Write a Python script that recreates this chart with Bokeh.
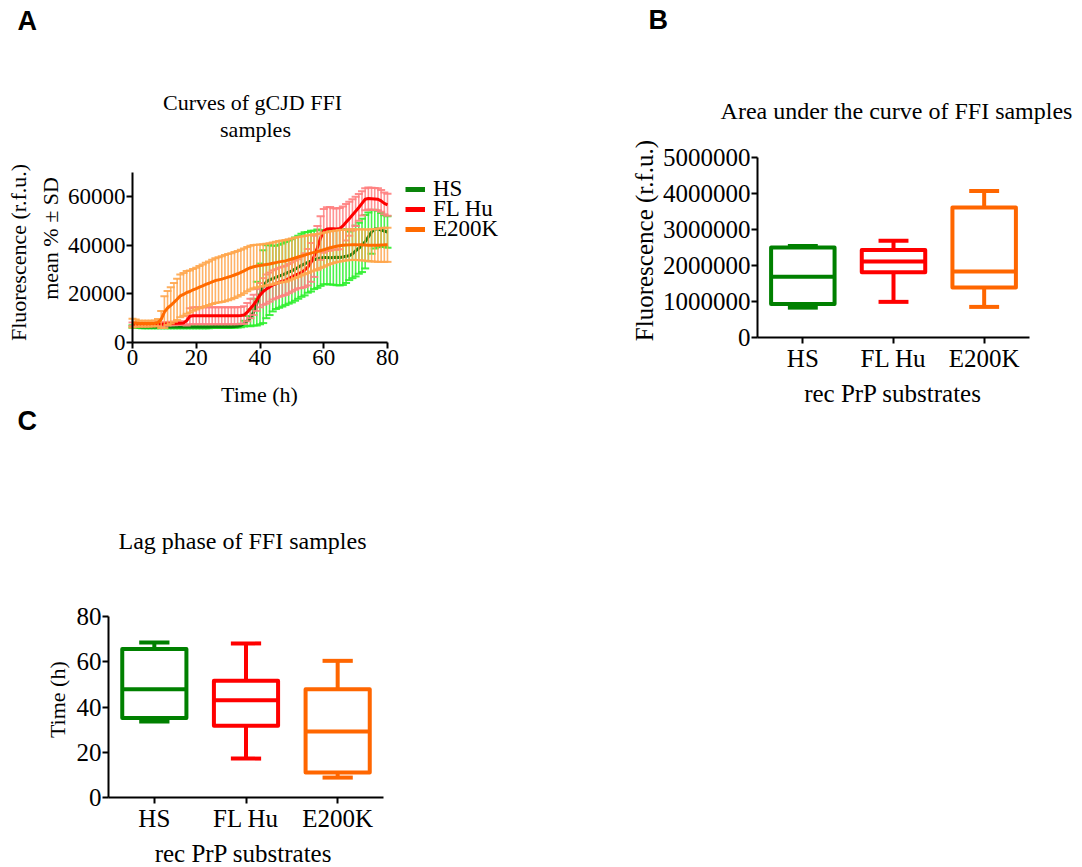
import math
import numpy as np
from bokeh.plotting import figure
from bokeh.layouts import column, row
from bokeh.models import (ColumnDataSource, Range1d, FixedTicker,
                          BasicTickFormatter, Label, Legend, LegendItem)
from bokeh.embed import file_html
from bokeh.resources import INLINE

# ---------------------------------------------------------------- data
# Panel A: RT-QuIC curves, mean and SD per hour (r.f.u.)
hours = list(range(81))

hs_mean = [6600, 6500, 6500, 6400, 6400, 6400, 6400, 6400, 6400, 6400,
           6400, 6400, 6400, 6400, 6400, 6400, 6400, 6400, 6400, 6400,
           6400, 6400, 6400, 6400, 6400, 6500, 6500, 6500, 6500, 6500,
           6500, 6500, 6600, 6700, 7000, 7800, 8900, 10200, 12500, 16000,
           20000, 23000, 25000, 25800, 26300, 26800, 27300, 27800, 28400, 29000,
           29500, 30200, 31000, 31800, 32400, 33000, 33500, 34000, 34500, 34800,
           35000, 35000, 34900, 35000, 35100, 35000, 35200, 35500, 35700, 36500,
           37700, 38800, 40000, 41500, 43500, 45500, 46700, 46700, 46300, 45900,
           45500]
hs_sd = [500, 500, 500, 500, 500, 500, 500, 500, 500, 500,
         500, 500, 500, 500, 500, 500, 500, 500, 500, 500,
         500, 500, 500, 500, 500, 500, 500, 500, 500, 500,
         500, 500, 500, 500, 700, 1200, 2000, 3500, 5500, 9000,
         12500, 15000, 15000, 14500, 13500, 13000, 13000, 13000, 13000, 13000,
         13000, 13000, 13000, 13000, 13000, 12500, 12500, 12000, 12000, 11500,
         11000, 11000, 11000, 11200, 11500, 11500, 11500, 11000, 10000, 10000,
         10500, 10500, 11000, 11000, 10000, 9000, 8000, 7500, 7000, 6500,
         6500]

fl_mean = [7500, 7500, 7400, 7400, 7400, 7400, 7500, 7500, 7500, 7500,
           7600, 7700, 7800, 7800, 7900, 7900, 8000, 9000, 10800, 11000,
           11000, 11000, 11000, 11000, 11000, 11000, 11000, 11000, 11000, 11000,
           11000, 11000, 11000, 11000, 11100, 11300, 12500, 14000, 15500, 17500,
           19500, 21000, 22000, 22800, 23700, 24200, 24800, 25200, 25600, 26300,
           27000, 27700, 28300, 28900, 29800, 31000, 33000, 35500, 39000, 43000,
           46000, 46700, 46800, 46800, 46700, 46900, 48000, 49500, 51000, 52500,
           54000, 55600, 57300, 59000, 59300, 59200, 59100, 59000, 58300, 57300,
           56700]
fl_sd = [700, 700, 700, 700, 700, 700, 700, 700, 700, 700,
         700, 700, 700, 700, 700, 700, 700, 2000, 3300, 3500,
         3500, 3500, 3500, 3500, 3500, 3500, 3500, 3500, 3500, 3500,
         3500, 3500, 3500, 3500, 3500, 3600, 3800, 4000, 4200, 4500,
         5000, 5500, 6000, 6000, 6000, 6000, 6000, 6000, 6000, 6000,
         6000, 6000, 6000, 6500, 7000, 7500, 8000, 8500, 9000, 9000,
         9000, 9000, 9000, 8500, 8500, 8500, 8000, 7500, 7000, 6500,
         6000, 5500, 5000, 4500, 4500, 4500, 4500, 4500, 4500, 4500,
         4500]

e2_mean = [8000, 8000, 7800, 7800, 7800, 7800, 7800, 7900, 8200, 9500,
           12500, 14200, 15300, 16500, 17800, 19200, 19800, 20600, 21000, 21700,
           22200, 22800, 23300, 23900, 24400, 25000, 25500, 25800, 26100, 26500,
           26900, 27300, 27800, 28300, 28900, 29500, 30200, 30800, 31200, 31500,
           31700, 31900, 32100, 32300, 32600, 32900, 33200, 33400, 33600, 34000,
           34400, 34800, 35200, 35600, 36000, 36400, 36800, 37100, 37400, 37800,
           38200, 38600, 39000, 39300, 39600, 39800, 40000, 40100, 40200, 40300,
           40300, 40200, 40200, 40100, 40000, 40000, 40000, 40000, 40100, 40200,
           40200]
e2_sd = [1800, 1500, 1200, 1200, 1200, 1200, 1200, 1200, 1500, 3500,
         6500, 7000, 7500, 8000, 8500, 8800, 8800, 8800, 8600, 8600,
         8600, 8700, 8800, 8900, 9000, 9100, 9200, 9300, 9400, 9500,
         9500, 9500, 9500, 9400, 9300, 9200, 9100, 9000, 8900, 8800,
         8700, 8600, 8600, 8600, 8600, 8600, 8600, 8600, 8600, 8500,
         8400, 8300, 8200, 8000, 7900, 7800, 7600, 7500, 7300, 7100,
         7000, 6800, 6700, 6600, 6500, 6500, 6400, 6300, 6300, 6300,
         6300, 6300, 6400, 6400, 6500, 6600, 6700, 6800, 6900, 7000,
         7000]

substrates = ["HS", "FL Hu", "E200K"]

# Panel B: area under the curve (r.f.u.), box-and-whisker summary
auc_min = [830000, 990000, 850000]
auc_q1 = [930000, 1810000, 1390000]
auc_med = [1690000, 2110000, 1830000]
auc_q3 = [2500000, 2430000, 3610000]
auc_max = [2540000, 2690000, 4070000]

# Panel C: lag phase (h), box-and-whisker summary
lag_min = [33.6, 17.2, 8.8]
lag_q1 = [35.1, 31.7, 11.0]
lag_med = [47.9, 43.0, 29.2]
lag_q3 = [65.6, 51.6, 47.9]
lag_max = [68.5, 68.1, 60.4]

# ---------------------------------------------------------------- styles
SERIF = "Liberation Serif"
SANS = "Liberation Sans"
MEAN_COLORS = ["#0a840a", "#ff0000", "#ff6a00"]
BAR_COLORS = ["#2cf02c", "#ff8080", "#ffa64d"]
BOX_COLORS = ["#008000", "#ff0000", "#ff6600"]


def panel_figure(width, height, frame, xr, yr, tick_size):
    """A figure whose plotting area fills the whole canvas; the axes are pinned
    at the data origin so the titles and labels can sit around them freely.
    `frame` gives the canvas pixels (left, right, top, bottom) of the axis box."""
    left, right, top, bottom = frame
    kx = (right - left) / (xr[1] - xr[0])
    ky = (bottom - top) / (yr[1] - yr[0])
    x_range = Range1d(xr[0] - left / kx, xr[1] + (width - right) / kx)
    y_range = Range1d(yr[0] - (height - bottom) / ky, yr[1] + top / ky)
    p = figure(width=width, height=height, x_range=x_range, y_range=y_range,
               output_backend="svg", toolbar_location=None, min_border=0)
    p.xaxis.fixed_location = yr[0]
    p.xaxis.bounds = xr
    p.yaxis.fixed_location = xr[0]
    p.yaxis.bounds = yr
    for ax in (p.xaxis[0], p.yaxis[0]):
        ax.axis_line_width = 2
        ax.axis_line_color = "black"
        ax.major_tick_line_width = 2
        ax.major_tick_line_color = "black"
        ax.major_tick_in = 0
        ax.major_tick_out = 6
        ax.minor_tick_line_color = None
        ax.major_label_text_font = SERIF
        ax.major_label_text_font_size = f"{tick_size}px"
        ax.major_label_text_color = "black"
        ax.major_label_standoff = 1
    p.xgrid.visible = False
    p.ygrid.visible = False
    p.outline_line_color = None
    p.background_fill_color = "white"
    p.border_fill_color = "white"

    def place(px, py):
        return (xr[0] + (px - left) / kx, yr[0] + (bottom - py) / ky)
    return p, place


def add_text(p, place, px, py, text, size, align="center", angle=0.0,
             font=SERIF, style="normal"):
    """Text whose box centre (vertically) sits at canvas pixel (px, py)."""
    x, y = place(px, py)
    p.add_layout(Label(x=x, y=y, text=text, text_font=font,
                       text_font_size=f"{size}px", text_font_style=style,
                       text_align=align, text_baseline="middle",
                       text_color="black", angle=angle))


# ---------------------------------------------------------------- panel A
H_A = 407
pA, placeA = panel_figure(540, H_A, (132, 387, 172, 342), (0, 80), (0, 70000), 23)
pA.xaxis[0].ticker = FixedTicker(ticks=[0, 20, 40, 60, 80])
pA.yaxis[0].ticker = FixedTicker(ticks=[0, 20000, 40000, 60000])
pA.yaxis[0].formatter = BasicTickFormatter(use_scientific=False)

LEGEND_LEFT = 405        # canvas x of the legend keys
LEGEND_ROWS = [189, 209, 229]  # canvas y of each legend row centre
ROW_HALF = 13            # half the height of one legend row

for name, mean, sd, mc, bc, row_y in zip(substrates, [hs_mean, fl_mean, e2_mean],
                                         [hs_sd, fl_sd, e2_sd], MEAN_COLORS,
                                         BAR_COLORS, LEGEND_ROWS):
    m = np.array(mean, dtype=float)
    s = np.array(sd, dtype=float)
    src = ColumnDataSource(dict(t=hours, mean=m, lo=m - s, hi=m + s))
    pA.segment(x0="t", x1="t", y0="lo", y1="hi", source=src,
               line_color=bc, line_width=1.6, line_alpha=0.85)
    pA.scatter(x="t", y="hi", source=src, marker="dash", size=8,
               line_color=bc, line_width=2, line_alpha=0.9)
    pA.scatter(x="t", y="lo", source=src, marker="dash", size=8,
               line_color=bc, line_width=2, line_alpha=0.9)
    pA.line(x="t", y="mean", source=src, line_color=mc, line_width=3)
    # single-point line: invisible on the plot, supplies the thick legend key
    key = pA.line(x=[0], y=[0], line_color=mc, line_width=5)
    # one single-item legend per series keeps the rows tightly spaced
    pA.add_layout(Legend(items=[LegendItem(label=name, renderers=[key])],
                         location=(LEGEND_LEFT, H_A - (row_y + ROW_HALF)),
                         padding=0, margin=0, spacing=0, glyph_width=20,
                         glyph_height=20, label_height=20, label_standoff=8,
                         border_line_color=None, background_fill_alpha=0,
                         label_text_font=SERIF, label_text_font_size="23px",
                         label_text_color="black"))

add_text(pA, placeA, 17, 20.5, "A", 27, align="left", font=SANS, style="bold")
add_text(pA, placeA, 252, 102, "Curves of gCJD FFI", 22)
add_text(pA, placeA, 255, 128.5, "samples", 22)
add_text(pA, placeA, 259, 394, "Time (h)", 22)
add_text(pA, placeA, 17.6, 252, "Fluorescence (r.f.u.)", 22, angle=math.pi / 2)
add_text(pA, placeA, 49.6, 238, "mean % \u00b1 SD", 22, angle=math.pi / 2)


# ---------------------------------------------------------------- box panels
def draw_boxes(p, vmin, q1, med, q3, vmax):
    pos = np.arange(1, len(substrates) + 1, dtype=float)
    src = ColumnDataSource(dict(x=pos, lo=vmin, q1=q1, med=med, q3=q3, hi=vmax,
                                color=BOX_COLORS, cap0=pos - 0.165, cap1=pos + 0.165,
                                box0=pos - 0.35, box1=pos + 0.35))
    lw = 4
    p.segment(x0="x", x1="x", y0="q3", y1="hi", source=src,
              line_color="color", line_width=lw)
    p.segment(x0="x", x1="x", y0="lo", y1="q1", source=src,
              line_color="color", line_width=lw)
    for y in ("hi", "lo"):
        p.segment(x0="cap0", x1="cap1", y0=y, y1=y, source=src,
                  line_color="color", line_width=lw)
    p.quad(left="box0", right="box1", bottom="q1", top="q3", source=src,
           fill_color="white", line_color="color", line_width=lw,
           line_join="round")
    p.segment(x0="box0", x1="box1", y0="med", y1="med", source=src,
              line_color="color", line_width=lw)
    p.xaxis[0].ticker = FixedTicker(ticks=list(pos))
    p.xaxis[0].major_label_overrides = {int(v): name for v, name in zip(pos, substrates)}


# panel B
pB, placeB = panel_figure(542, 407, (217, 489, 157, 337), (0.5, 3.5), (0, 5000000), 25)
pB.yaxis[0].ticker = FixedTicker(ticks=[0, 1000000, 2000000, 3000000, 4000000, 5000000])
pB.yaxis[0].formatter = BasicTickFormatter(use_scientific=False)
draw_boxes(pB, auc_min, auc_q1, auc_med, auc_q3, auc_max)
add_text(pB, placeB, 108, 19.6, "B", 27, align="left", font=SANS, style="bold")
add_text(pB, placeB, 356, 110.2, "Area under the curve of FFI samples", 24)
add_text(pB, placeB, 103.5, 240, "Fluorescence (r.f.u.)", 25, angle=math.pi / 2)
add_text(pB, placeB, 352.5, 393, "rec PrP substrates", 25)

# panel C
pC, placeC = panel_figure(540, 460, (108, 383, 209, 390), (0.5, 3.5), (0, 80), 25)
pC.yaxis[0].ticker = FixedTicker(ticks=[0, 20, 40, 60, 80])
draw_boxes(pC, lag_min, lag_q1, lag_med, lag_q3, lag_max)
add_text(pC, placeC, 17, 13.6, "C", 27, align="left", font=SANS, style="bold")
add_text(pC, placeC, 242, 133.2, "Lag phase of FFI samples", 24)
add_text(pC, placeC, 56.5, 292.2, "Time (h)", 22, angle=math.pi / 2)
add_text(pC, placeC, 243, 445.6, "rec PrP substrates", 25)

page = column(row(pA, pB), pC)
open("out.html", "w").write(file_html(page, INLINE))
